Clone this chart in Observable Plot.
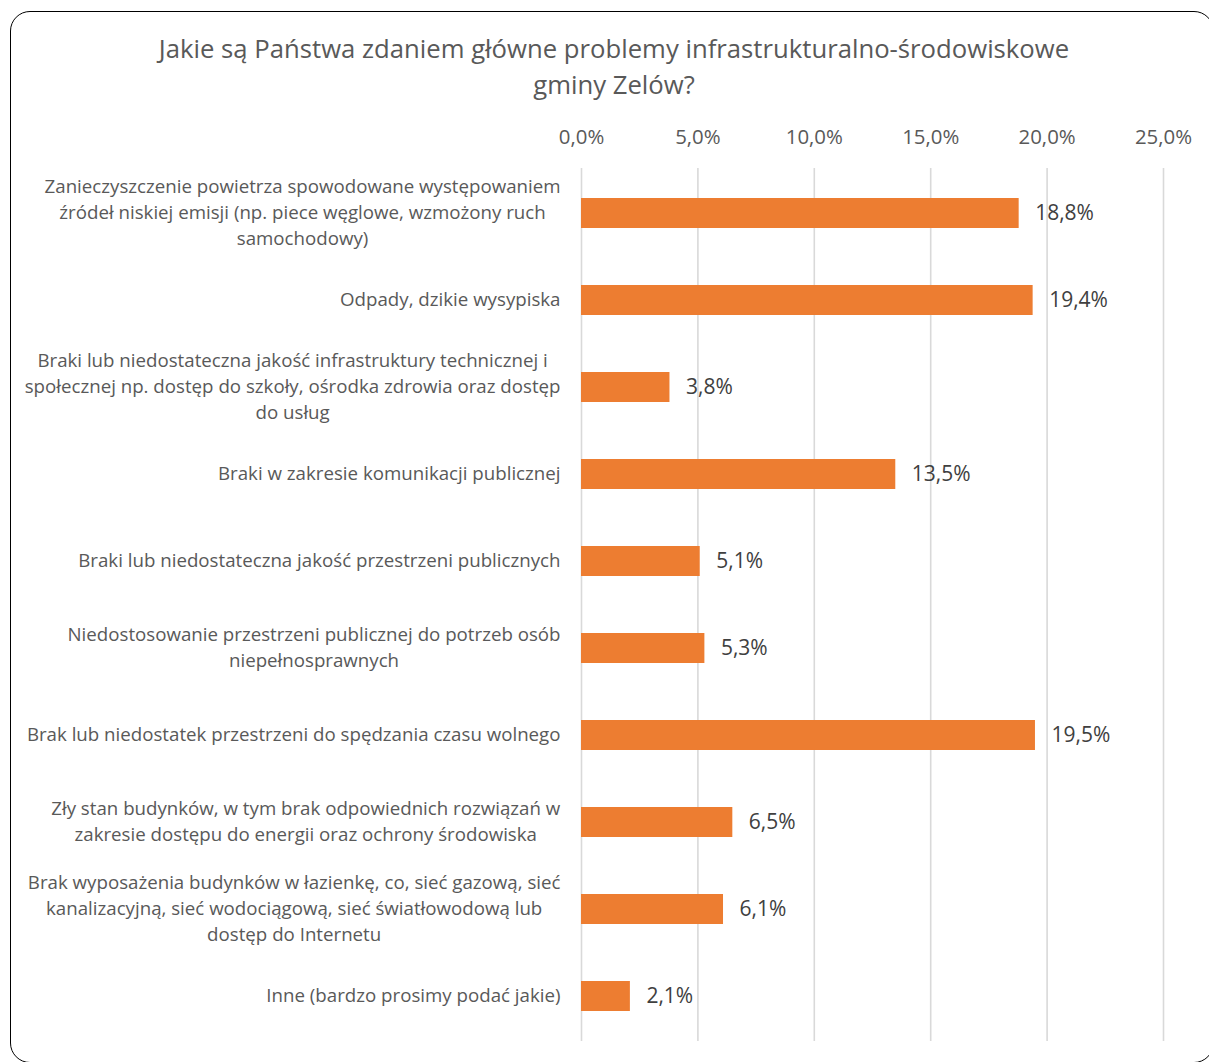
<!DOCTYPE html>
<html>
<head>
<meta charset="utf-8">
<script src="https://cdn.jsdelivr.net/npm/d3@7"></script>
<script src="https://cdn.jsdelivr.net/npm/@observablehq/plot@0.6"></script>
<style>
  html, body { margin: 0; padding: 0; background: #fff; }
  body { width: 1209px; height: 1062px; overflow: hidden; position: relative; font-family: "Open Sans", "Noto Sans", sans-serif; }
  #frame { position: absolute; left: 10px; top: 11px; width: 1204px; height: 1052px; box-sizing: border-box;
           border: 1.6px solid #000; border-radius: 20px; }
  #title { position: absolute; left: 0; top: 31px; width: 1228px; text-align: center; font-size: 25.7px;
           line-height: 36px; color: #595959; }
  #chart { position: absolute; left: 0; top: 110px; }
</style>
</head>
<body>
<div id="frame"></div>
<div id="title">Jakie są Państwa zdaniem główne problemy infrastrukturalno-środowiskowe<br>gminy Zelów?</div>
<div id="chart"></div>
<script>
const categories = [
  "Zanieczyszczenie powietrza spowodowane występowaniem\nźródeł niskiej emisji (np. piece węglowe, wzmożony ruch\nsamochodowy)",
  "Odpady, dzikie wysypiska",
  "Braki lub niedostateczna jakość infrastruktury technicznej i\nspołecznej np. dostęp do szkoły, ośrodka zdrowia oraz dostęp\ndo usług",
  "Braki w zakresie komunikacji publicznej",
  "Braki lub niedostateczna jakość przestrzeni publicznych",
  "Niedostosowanie przestrzeni publicznej do potrzeb osób\nniepełnosprawnych",
  "Brak lub niedostatek przestrzeni do spędzania czasu wolnego",
  "Zły stan budynków, w tym brak odpowiednich rozwiązań w\nzakresie dostępu do energii oraz ochrony środowiska",
  "Brak wyposażenia budynków w łazienkę, co, sieć gazową, sieć\nkanalizacyjną, sieć wodociągową, sieć światłowodową lub\ndostęp do Internetu",
  "Inne (bardzo prosimy podać jakie)"
];
const values = [18.8, 19.4, 3.8, 13.5, 5.1, 5.3, 19.5, 6.5, 6.1, 2.1];
const xTicks = [0, 5, 10, 15, 20, 25];

const data = categories.map((c, i) => ({label: c, value: values[i]}));
const fmt = v => v.toFixed(1).replace(".", ",") + "%";

const chart = Plot.plot({
  width: 1209,
  height: 950,
  marginLeft: 581,
  marginRight: 46,
  marginTop: 58,
  marginBottom: 19,
  style: {fontFamily: "'Open Sans', 'Noto Sans', sans-serif", fontSize: "19px", color: "#595959", background: "transparent", overflow: "visible"},
  x: {domain: [0, 25], label: null},
  y: {domain: categories, paddingInner: 0.655, paddingOuter: 0.3275, label: null},
  marks: [
    Plot.gridX(xTicks, {stroke: "#d9d9d9", strokeOpacity: 1, strokeWidth: 1.6}),
    Plot.barX(data, {x: "value", y: "label", fill: "#ED7D31"}),
    Plot.text(data, {x: "value", y: "label", text: d => fmt(d.value), textAnchor: "start", dx: 16, fill: "#404040", fontSize: 21}),
    Plot.axisX({anchor: "top", ticks: xTicks, tickFormat: fmt, tickSize: 0, tickPadding: 25, fontSize: 20.4, fill: "#595959", label: null}),
    Plot.axisY({tickSize: 0, tickPadding: 21, dy: -3, fontSize: 18.7, lineHeight: 1.39, fill: "#595959", textAnchor: "middle", label: null})
  ]
});
document.getElementById("chart").appendChild(chart);

// center each wrapped label's lines within its block, keeping the block right-aligned
chart.querySelectorAll('g[aria-label="y-axis tick label"] text').forEach(t => {
  const w = t.getBBox().width;
  const tr = t.getAttribute("transform") || "";
  t.setAttribute("transform", tr + ` translate(${-w / 2},0)`);
});
</script>
</body>
</html>
